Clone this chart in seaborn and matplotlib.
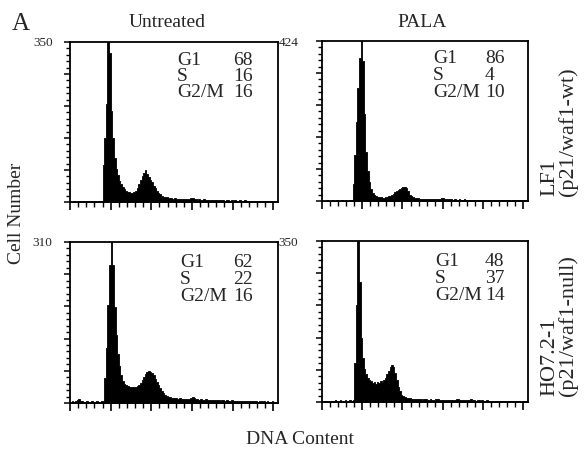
import numpy as np
import pandas as pd
import matplotlib
matplotlib.use("Agg")
import matplotlib.pyplot as plt
import seaborn as sns
from matplotlib.ticker import MultipleLocator

# DNA histograms, 2-channel bins over 256 channels
untreated_wt = [0, 1, 2, 1, 2, 2, 1, 2, 2, 1, 2, 2, 1, 2, 3, 2, 1, 2, 2, 3,
                80, 140, 215, 350, 325, 200, 140, 96, 72, 58,
                47, 40, 33, 28, 24, 22, 21, 20, 20, 22,
                25, 30, 40, 49, 56, 63, 70, 62, 54, 49,
                44, 36, 30, 25, 20, 17, 14, 12, 11, 10,
                9, 8, 9, 7, 8, 7, 7, 6, 7, 6,
                6, 7, 6, 7, 9, 8, 7, 6, 5, 6,
                5, 5, 6, 5, 4, 5, 5, 4, 5, 4,
                4, 4, 5, 4, 4, 3, 4, 4, 3, 4,
                3, 4, 3, 3, 4, 3, 3, 4, 3, 3,
                3, 3, 2, 3, 3, 2, 3, 3, 2, 3,
                2, 3, 2, 2, 3, 2, 2, 3]
pala_wt = [0, 1, 1, 2, 1, 1, 2, 1, 1, 2, 1, 1, 2, 1, 2, 1, 1, 2, 2,
           45,
           123, 210, 300, 380, 424, 370, 230, 130, 80, 50,
           32, 20, 15, 13, 11, 10, 10, 9, 9, 10,
           10, 12, 14, 17, 19, 23, 27, 30, 32, 35,
           37, 36, 34, 26, 17, 13, 11, 9, 8, 7,
           6, 5, 6, 5, 5, 6, 5, 5, 4, 5,
           5, 4, 5, 4, 7, 9, 6, 4, 4, 4,
           4, 3, 4, 3, 3, 4, 3, 3, 4, 3,
           3, 3, 2, 3, 3, 2, 3, 3, 2, 3,
           2, 3, 2, 2, 3, 2, 2, 3, 2, 2,
           2, 2, 3, 2, 2, 2, 2, 1, 2, 2,
           2, 1, 2, 2, 1, 2, 1, 2]
untreated_null = [0, 3, 2, 3, 6, 8, 4, 3, 2, 2, 3, 2, 2, 3, 2, 2, 3, 2, 2, 3, 3,
                  48, 106, 189, 266, 310, 265, 185, 130, 95,
                  72, 53, 43, 37, 34, 32, 30, 30, 30, 31,
                  31, 33, 34, 38, 45, 51, 56, 59, 61, 60,
                  57, 53, 47, 41, 34, 28, 23, 19, 16, 14,
                  12, 11, 10, 10, 9, 9, 8, 9, 8, 8,
                  7, 8, 7, 8, 10, 12, 9, 7, 7, 6,
                  7, 6, 6, 7, 6, 5, 6, 5, 6, 5,
                  5, 5, 4, 5, 5, 4, 5, 4, 4, 5,
                  4, 4, 4, 3, 4, 4, 3, 4, 3, 3,
                  3, 4, 3, 3, 3, 2, 3, 3, 2, 3,
                  2, 3, 2, 2, 3, 2, 2, 2]
pala_null = [0, 2, 3, 2, 3, 3, 2, 3, 4, 3, 3, 4, 3, 3, 4, 3, 3, 4, 3, 4,
             85, 210, 350, 260, 140, 95, 72, 60, 52, 47,
             45, 41, 44, 39, 43, 41, 45, 44, 48, 52,
             60, 68, 76, 81, 76, 62, 47, 33, 24, 16,
             12, 10, 9, 8, 8, 7, 7, 7, 6, 6,
             6, 6, 5, 6, 6, 5, 5, 6, 5, 5,
             6, 7, 6, 5, 5, 4, 5, 5, 4, 5,
             4, 5, 4, 6, 7, 5, 4, 4, 5, 4,
             4, 5, 6, 5, 4, 3, 4, 4, 3, 4,
             3, 3, 4, 3, 3, 3, 2, 3, 3, 2,
             3, 2, 2, 3, 2, 2, 2, 2, 3, 2,
             2, 2, 2, 1, 2, 2, 1, 2]

y_max = [350, 424, 310, 350]
phases = ["G1", "S", "G2/M"]
stats = [[68, 16, 16], [86, 4, 10], [62, 22, 16], [48, 37, 14]]
col_titles = ["Untreated", "PALA"]
row_names = ["LF1", "HO7.2-1"]
row_genotypes = ["(p21/waf1-wt)", "(p21/waf1-null)"]

edges = list(range(0, 257, 2))
centers = [e + 1 for e in edges[:-1]]

sns.set_style("ticks")
plt.rcParams["font.family"] = ["Liberation Serif", "DejaVu Serif"]

W, H = 584, 450
fig = plt.figure(figsize=(W / 100, H / 100), dpi=100)


def px_rect(l, t, r, b):
    return [l / W, 1 - b / H, (r - l) / W, (b - t) / H]


rects = [px_rect(70, 42, 278, 202), px_rect(322, 41, 528, 201),
         px_rect(70, 242, 278, 403), px_rect(322, 241, 528, 402)]
text_x = [(0.514, 0.784), (0.54, 0.791), (0.529, 0.784), (0.549, 0.791)]
text_y = [(0.856, 0.756, 0.656), (0.86, 0.756, 0.652),
          (0.847, 0.739, 0.634), (0.845, 0.737, 0.634)]
hists = [untreated_wt, pala_wt, untreated_null, pala_null]

for i, counts in enumerate(hists):
    ax = fig.add_axes(rects[i])
    df = pd.DataFrame({"channel": centers, "count": counts})
    sns.histplot(data=df, x="channel", weights="count", bins=edges, element="step",
                 fill=True, color="black", alpha=1, linewidth=0.6, ax=ax)
    ax.set_xlim(0, 256)
    ax.set_ylim(0, y_max[i])
    ax.set_xlabel("")
    ax.set_ylabel("")
    ax.set_xticks(range(0, 251, 50))
    ax.set_xticklabels([])
    ax.xaxis.set_minor_locator(MultipleLocator(10))
    ax.set_yticks(np.linspace(0, y_max[i], 6))
    ax.set_yticklabels([""] * 5 + [str(y_max[i])])
    ax.yaxis.set_minor_locator(MultipleLocator(y_max[i] / 25))
    ax.tick_params(axis="x", which="major", direction="out", length=6, width=1.2,
                   bottom=True, color="black")
    ax.tick_params(axis="x", which="minor", direction="out", length=3.5, width=1,
                   bottom=True, color="black")
    ax.tick_params(axis="y", which="major", direction="out", length=4.5, width=1.1,
                   left=True, color="black", labelsize=9.5,
                   pad=8 if i % 2 == 0 else 12.5)
    ax.tick_params(axis="y", which="minor", direction="out", length=3, width=1,
                   left=True, color="black")
    for s in ax.spines.values():
        s.set_visible(True)
        s.set_linewidth(1.3)
        s.set_color("black")
    for k, ph in enumerate(phases):
        ax.text(text_x[i][0], text_y[i][k], ph, transform=ax.transAxes,
                fontsize=14, va="baseline", ha="left")
        ax.text(text_x[i][1], text_y[i][k], str(stats[i][k]), transform=ax.transAxes,
                fontsize=14, va="baseline", ha="left")

fig.text(12 / W, 1 - 30 / H, "A", fontsize=18, ha="left", va="baseline")
fig.text(167 / W, 1 - 27 / H, col_titles[0], fontsize=14, ha="center", va="baseline")
fig.text(422 / W, 1 - 27 / H, col_titles[1], fontsize=14, ha="center", va="baseline")
fig.text(17 / W, 1 - 213 / H, "Cell Number", fontsize=14, rotation=90,
         ha="center", va="center")
fig.text(300 / W, 1 - 440 / H, "DNA Content", fontsize=14, ha="center", va="center")
for r, y_bot in enumerate([196, 396]):
    fig.text(550 / W, 1 - y_bot / H, row_names[r], fontsize=16, rotation=90,
             ha="center", va="bottom")
    fig.text(568 / W, 1 - y_bot / H, row_genotypes[r], fontsize=16, rotation=90,
             ha="center", va="bottom")

fig.savefig("out.png", dpi=100)
